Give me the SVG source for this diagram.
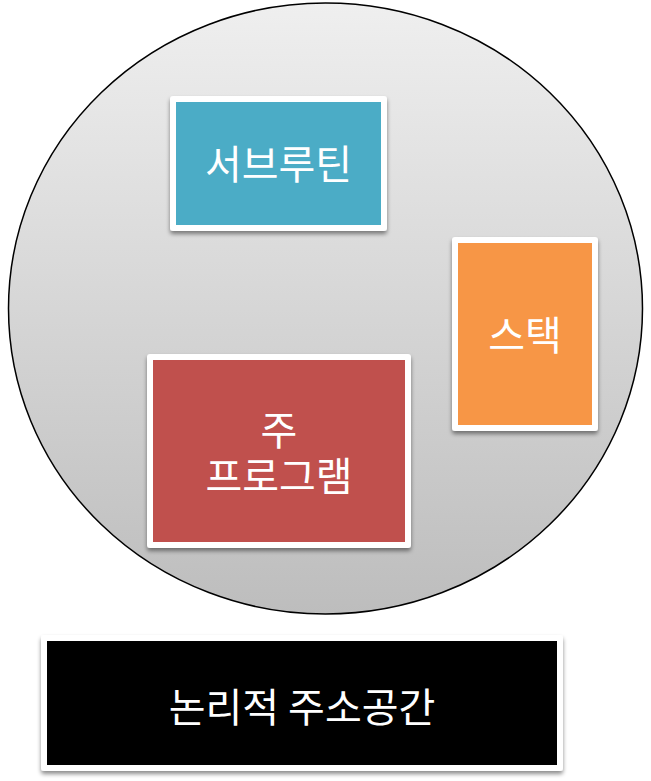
<svg xmlns="http://www.w3.org/2000/svg" width="651" height="781" viewBox="0 0 651 781">
<defs>
<linearGradient id="bg" x1="0" y1="0" x2="0" y2="1">
<stop offset="0" stop-color="#efefef"/>
<stop offset="1" stop-color="#bdbdbd"/>
</linearGradient>
<filter id="sh" x="-10%" y="-10%" width="120%" height="125%">
<feDropShadow dx="0" dy="3" stdDeviation="2" flood-color="#000" flood-opacity="0.45"/>
</filter>
</defs>
<style>
.frame{fill:#ffffff;filter:url(#sh)}
.lbl{font-family:"Noto Sans CJK KR","Noto Sans CJK SC",sans-serif;font-size:40px;fill:#ffffff;text-anchor:middle;dominant-baseline:central}
</style>
<g id="space">
<ellipse cx="325.5" cy="308.5" rx="317" ry="305.5" fill="url(#bg)" stroke="#000" stroke-width="1.5"/>
</g>
<g id="connectors"></g>
<g id="subroutine">
<rect class="frame" x="170" y="96" width="217" height="135" rx="3"/>
<rect x="176" y="102" width="205" height="123" fill="#4bacc6"/>
<text class="lbl" x="278.5" y="162">서브루틴</text>
</g>
<g id="stack">
<rect class="frame" x="452" y="237" width="146" height="194" rx="3"/>
<rect x="458" y="243" width="134" height="182" fill="#f79646"/>
<text class="lbl" x="525" y="333">스택</text>
</g>
<g id="main">
<rect class="frame" x="147" y="354" width="264" height="194" rx="3"/>
<rect x="153" y="360" width="252" height="182" fill="#c0504d"/>
<text class="lbl"><tspan x="279" y="428">주</tspan><tspan x="279" y="474">프로그램</tspan></text>
</g>
<g id="logical">
<rect class="frame" x="41" y="635" width="522" height="136" rx="3"/>
<rect x="47" y="641" width="510" height="124" fill="#000000"/>
<text class="lbl" x="302" y="705">논리적 주소공간</text>
</g>
</svg>
